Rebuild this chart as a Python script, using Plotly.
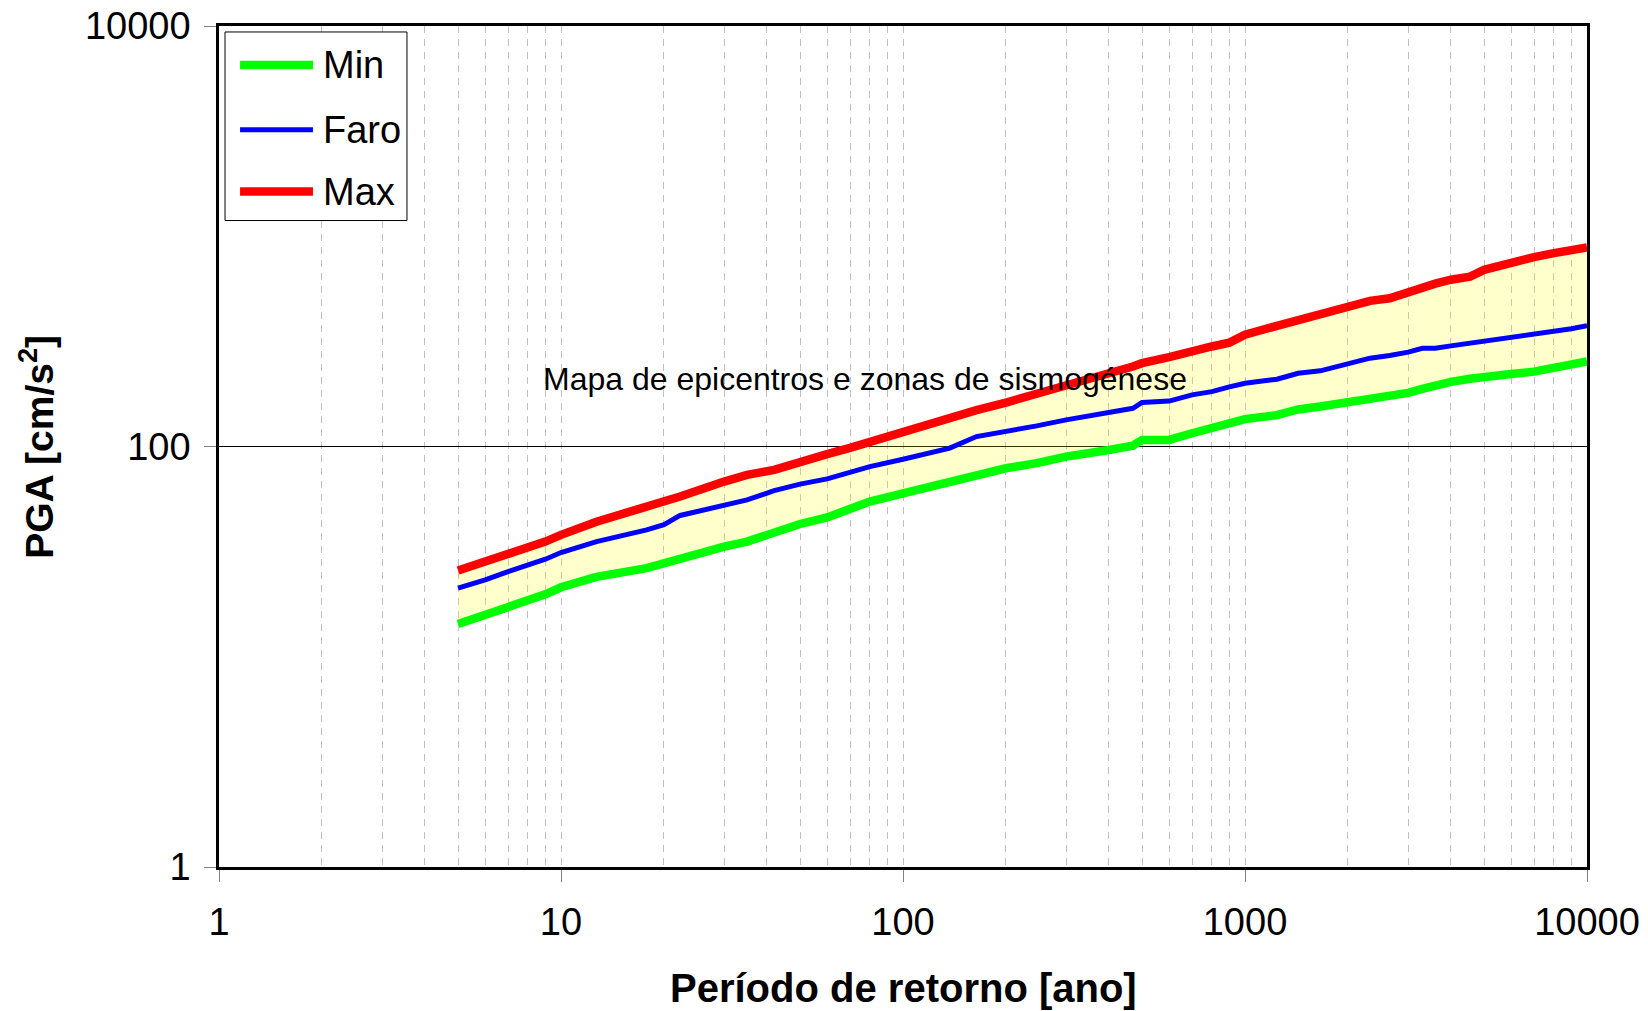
import plotly.graph_objects as go

# Return period [years] shared by all three curves
periodo = [5, 6, 7, 8, 9, 10, 12.7, 17.8, 20, 22.3, 30, 35, 42, 50, 60, 70, 80, 100,
           137, 164, 200, 246, 300, 400, 470, 500, 600, 700, 800, 900, 1000, 1240,
           1430, 1660, 2000, 2320, 2650, 3000, 3300, 3600, 4000, 4550, 5000, 6000,
           7000, 8000, 9000, 10000]

# PGA [cm/s2]
pga_max = [25.7, 28.3, 30.7, 32.8, 35.3, 38.0, 43.9, 51.8, 54.7, 57.8, 68.1, 73.3, 77.4,
           84.8, 92.0, 98.5, 105.5, 117.8, 138.0, 149.0, 161.8, 179.0, 198.5, 223.0,
           240.0, 249.0, 266.0, 280.0, 299.0, 312.0, 340.0, 375.0, 400.0, 423.0, 460.0,
           493.0, 507.0, 546.0, 570.0, 595.0, 621.0, 643.0, 692.0, 750.0, 796.0, 831.0,
           855.0, 884.0]
pga_faro = [21.2, 23.2, 25.4, 27.1, 29.1, 31.3, 35.3, 40.1, 42.5, 47.0, 52.7, 55.7, 61.7,
            66.2, 70.1, 75.0, 80.2, 87.0, 98.2, 111.5, 117.8, 125.3, 133.8, 145.0, 152.0,
            162.0, 164.5, 176.0, 182.4, 192.0, 200.0, 209.0, 223.0, 229.0, 249.0, 263.0,
            271.0, 281.0, 293.0, 293.0, 301.0, 310.0, 319.0, 330.0, 340.0, 352.0, 363.0,
            375.0]
pga_min = [14.3, 15.8, 17.3, 18.4, 19.8, 21.4, 24.0, 26.4, 27.9, 29.4, 33.4, 35.3, 39.4,
           42.8, 46.0, 50.5, 54.7, 59.9, 68.1, 73.3, 78.8, 83.3, 89.5, 96.3, 101.0, 107.5,
           107.5, 115.6, 122.2, 130.0, 135.0, 141.0, 150.0, 155.0, 163.0, 168.0, 173.0,
           180.0, 188.0, 196.0, 203.0, 210.0, 215.0, 221.0, 227.0, 236.0, 245.0, 254.0]

series_names = ["Min", "Faro", "Max"]
series_colors = ["#00FF00", "#0000FF", "#FF0000"]
series_widths = [8.5, 5, 8.5]

x_tickvals = [1, 10, 100, 1000, 10000]
x_ticktext = ["1", "10", "100", "1000", "10000"]
y_tickvals = [1, 100, 10000]
y_ticktext = ["1", "100", "10000"]
x_minor = [k * 10 ** d for d in range(4) for k in range(2, 10)]

annot_text = "Mapa de epicentros e zonas de sismogénese"
x_title = "Período de retorno [ano]"
y_title = "PGA [cm/s<sup>2</sup>]"

FONT = "Liberation Sans, Arial, sans-serif"

fig = go.Figure()

# Shaded band between the minimum and maximum curves
fig.add_trace(go.Scatter(x=periodo, y=pga_min, mode="lines", line=dict(width=0),
                         showlegend=False, hoverinfo="skip"))
fig.add_trace(go.Scatter(x=periodo, y=pga_max, mode="lines", line=dict(width=0),
                         fill="tonexty", fillcolor="rgba(255,255,0,0.2)",
                         showlegend=False, hoverinfo="skip"))

for name, ys, col, w in zip(series_names, [pga_min, pga_faro, pga_max],
                            series_colors, series_widths):
    fig.add_trace(go.Scatter(x=periodo, y=ys, mode="lines", name=name,
                             line=dict(color=col, width=w), showlegend=False))

# Legend box drawn by hand (long line samples)
shapes = [dict(type="rect", xref="paper", yref="paper", x0=0.0044, x1=0.1374,
               y0=0.7687, y1=0.9929, line=dict(color="black", width=1),
               fillcolor="white", layer="above")]
annotations = []
legend_y = [0.9537, 0.8766, 0.8031]
for name, col, w, ly in zip(series_names, series_colors, series_widths, legend_y):
    shapes.append(dict(type="line", xref="paper", yref="paper", x0=0.0154, x1=0.0687,
                       y0=ly, y1=ly, line=dict(color=col, width=w), layer="above"))
    annotations.append(dict(xref="paper", yref="paper", x=0.0745, y=ly, text=name,
                            showarrow=False, xanchor="left", yanchor="middle",
                            font=dict(family=FONT, size=38, color="black")))

annotations.append(dict(xref="paper", yref="paper", x=0.2354, y=0.580, text=annot_text,
                        showarrow=False, xanchor="left", yanchor="middle",
                        font=dict(family=FONT, size=32, color="black")))
annotations.append(dict(xref="paper", yref="paper", x=0.5, y=-0.1435,
                        text="<b>" + x_title + "</b>",
                        showarrow=False, xanchor="center", yanchor="middle",
                        font=dict(family=FONT, size=40, color="black")))
annotations.append(dict(xref="paper", yref="paper", x=-0.1335, y=0.5,
                        text="<b>" + y_title + "</b>",
                        showarrow=False, xanchor="center", yanchor="middle", textangle=-90,
                        font=dict(family=FONT, size=39, color="black")))

fig.update_layout(
    width=1648, height=1011,
    margin=dict(l=219, r=61, t=26, b=144, autoexpand=False),
    paper_bgcolor="white", plot_bgcolor="white",
    font=dict(family=FONT, size=38, color="black"),
    shapes=shapes, annotations=annotations,
    showlegend=False,
)

fig.update_xaxes(
    type="log", range=[0, 4], automargin=False,
    tickmode="array", tickvals=x_tickvals, ticktext=x_ticktext,
    ticks="outside", ticklen=12, tickwidth=1, tickcolor="#808080",
    ticklabelstandoff=8,
    showgrid=True, gridcolor="#C0C0C0", gridwidth=1, griddash="7px,6px",
    minor=dict(tickvals=x_minor, showgrid=True, gridcolor="#C0C0C0", gridwidth=1,
               griddash="7px,6px", ticks=""),
    showline=True, linecolor="black", linewidth=2.5, mirror=True,
    zeroline=False,
    tickfont=dict(family=FONT, size=38, color="black"),
)
fig.update_yaxes(
    type="log", range=[0, 4], automargin=False,
    tickmode="array", tickvals=y_tickvals, ticktext=y_ticktext,
    ticks="outside", ticklen=12, tickwidth=1, tickcolor="#808080",
    ticklabelstandoff=6,
    showgrid=True, gridcolor="black", gridwidth=1,
    showline=True, linecolor="black", linewidth=2.5, mirror=True,
    zeroline=False,
    tickfont=dict(family=FONT, size=38, color="black"),
)

fig.write_html("out.html")
